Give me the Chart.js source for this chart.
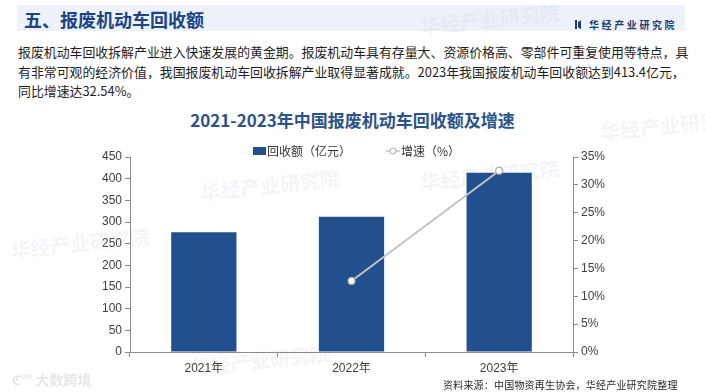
<!DOCTYPE html>
<html>
<head>
<meta charset="utf-8">
<script src="https://cdn.jsdelivr.net/npm/chart.js@4.4.1/dist/chart.umd.min.js"></script>
<style>
  html, body { margin: 0; padding: 0; background: #ffffff; }
  body { width: 705px; height: 392px; position: relative; overflow: hidden;
         font-family: "Noto Sans CJK SC", "Liberation Sans", sans-serif; }
  .wm { position: absolute; color: rgba(196, 208, 226, 0.22); font-weight: bold; white-space: nowrap;
        transform: rotate(-6deg); font-size: 20px; }
  #band { position: absolute; left: 17px; top: 5px; width: 668px; height: 26px; background: #edf2fa; }
  #head { position: absolute; left: 24px; top: 6px; font-size: 18px; font-weight: bold; color: #1b4584;
          line-height: 26px; white-space: nowrap; }
  #logo { position: absolute; left: 575px; top: 10px; height: 14px; white-space: nowrap; }
  #logo .ic { display: inline-block; width: 2px; height: 9px; background: #1f3d73; margin-right: 1px; vertical-align: middle; }
  #logo .ic2 { display: inline-block; width: 3px; height: 9px; background: #1f3d73; margin-right: 8px; vertical-align: middle;
               clip-path: polygon(0 20%, 100% 0, 100% 100%, 0 80%); }
  #logo span.t { font-size: 10px; font-weight: bold; color: #1f3d73; letter-spacing: 2.6px; vertical-align: middle; }
  #para { position: absolute; left: 18px; top: 42px; font-size: 12.9px; line-height: 19.5px; color: #1e1e1e; white-space: nowrap; }
  #title { position: absolute; left: 0; width: 705px; top: 109px; text-align: center; font-size: 17px; font-weight: bold;
           color: #2b5489; line-height: 22px; }
  #wrap { position: absolute; left: 0; top: 117px; width: 705px; height: 263px; }
  #src { position: absolute; left: 443px; top: 377px; font-size: 10px; letter-spacing: 0.2px; color: #2a2a2a; line-height: 16px; white-space: nowrap; }
  #dsk { position: absolute; left: 12px; top: 369px; font-size: 14px; color: rgba(228,228,228,0.9); font-weight: bold; white-space: nowrap; }
</style>
</head>
<body>
<div id="band"></div>
<div class="wm" style="left:420px;top:4px;">华经产业研究院</div>
<div class="wm" style="left:200px;top:170px;">华经产业研究院</div>
<div class="wm" style="left:420px;top:160px;">华经产业研究院</div>
<div class="wm" style="left:10px;top:228px;">华经产业研究院</div>
<div class="wm" style="left:190px;top:345px;">华经产业研究院</div>
<div class="wm" style="left:600px;top:110px;">华经产业研究院</div>
<div id="head">五、报废机动车回收额</div>
<div id="logo"><span class="ic"></span><span class="ic2"></span><span class="t">华经产业研究院</span></div>
<div id="para">报废机动车回收拆解产业进入快速发展的黄金期。报废机动车具有存量大、资源价格高、零部件可重复使用等特点，具<br>有非常可观的经济价值，我国报废机动车回收拆解产业取得显著成就。2023年我国报废机动车回收额达到413.4亿元，<br>同比增速达32.54%。</div>
<div id="title">2021-2023年中国报废机动车回收额及增速</div>
<div id="wrap"><canvas id="c" width="705" height="263"></canvas></div>
<div id="src">资料来源：中国物资再生协会，华经产业研究院整理</div>
<div id="dsk">ℭ°° 大数跨境</div>
<script>
// ---- data ----
const categories = ['2021年', '2022年', '2023年'];
const amountLabel = '回收额（亿元）';
const amountValues = [276.6, 311.9, 413.4];
const growthLabel = '增速（%）';
const growthValues = [null, 12.75, 32.54];
const leftTicks = [0, 50, 100, 150, 200, 250, 300, 350, 400, 450];
const rightTicks = [0, 5, 10, 15, 20, 25, 30, 35];

const BAR = '#224f8d';
const LINE = '#c3c3c3';
const AXIS = '#8a8a8a';
const TICK = '#404040';

function markerBar() {
  const c = document.createElement('canvas'); c.width = 28; c.height = 12;
  const x = c.getContext('2d'); x.fillStyle = BAR; x.fillRect(14, 2, 13, 8); return c;
}
function markerLine() {
  const c = document.createElement('canvas'); c.width = 28; c.height = 12;
  const x = c.getContext('2d');
  x.strokeStyle = LINE; x.lineWidth = 1.5; x.beginPath(); x.moveTo(13, 6); x.lineTo(27, 6); x.stroke();
  x.fillStyle = '#fff'; x.strokeStyle = '#a8a8a8'; x.lineWidth = 1;
  x.beginPath(); x.arc(20, 6, 3, 0, Math.PI * 2); x.fill(); x.stroke(); return c;
}
const mBar = markerBar(), mLine = markerLine();

new Chart(document.getElementById('c'), {
  type: 'bar',
  data: {
    labels: categories,
    datasets: [
      { type: 'bar', label: amountLabel, data: amountValues, backgroundColor: BAR, yAxisID: 'y',
        barPercentage: 0.442, categoryPercentage: 1, order: 2 },
      { type: 'line', label: growthLabel, data: growthValues, yAxisID: 'y1', borderColor: LINE, borderWidth: 2,
        pointRadius: 3.5, pointBackgroundColor: '#ffffff', pointBorderColor: '#a8a8a8', pointBorderWidth: 1.3,
        fill: false, tension: 0, order: 1 }
    ]
  },
  options: {
    responsive: false,
    animation: false,
    layout: { padding: 0 },
    plugins: {
      tooltip: { enabled: false },
      legend: {
        position: 'top', align: 'center', maxHeight: 40,
        labels: {
          usePointStyle: true, pointStyleWidth: 16, boxHeight: 12, padding: 28,
          color: '#333333', font: { size: 12, family: '"Noto Sans CJK SC", "Liberation Sans", sans-serif' },
          generateLabels: (chart) => chart.data.datasets.map((d, i) => ({
            text: d.label, pointStyle: i === 0 ? mBar : mLine, datasetIndex: i,
            fillStyle: 'transparent', strokeStyle: 'transparent', lineWidth: 0, fontColor: '#333333'
          }))
        }
      }
    },
    scales: {
      x: {
        offset: true,
        grid: { display: true, offset: true, drawOnChartArea: false, drawTicks: true, tickLength: 5, color: AXIS },
        border: { display: true, color: AXIS, width: 1 },
        ticks: { color: TICK, padding: 4, font: { size: 12, family: '"Liberation Sans", "Noto Sans CJK SC", sans-serif' } },
        afterFit: (s) => { s.height = 28; }
      },
      y: {
        position: 'left', min: 0, max: 450,
        afterBuildTicks: (s) => { s.ticks = leftTicks.map(v => ({ value: v })); },
        grid: { display: true, drawOnChartArea: false, drawTicks: true, tickLength: 5, color: AXIS },
        border: { display: true, color: AXIS, width: 1 },
        ticks: { color: TICK, padding: 3, font: { size: 12, family: '"Liberation Sans", sans-serif' } },
        afterFit: (s) => { s.width = 130; }
      },
      y1: {
        position: 'right', min: 0, max: 35,
        afterBuildTicks: (s) => { s.ticks = rightTicks.map(v => ({ value: v })); },
        grid: { display: true, drawOnChartArea: false, drawTicks: true, tickLength: 5, color: AXIS },
        border: { display: true, color: AXIS, width: 1 },
        ticks: { color: TICK, padding: 3, callback: (v) => v + '%', font: { size: 12, family: '"Liberation Sans", sans-serif' } },
        afterFit: (s) => { s.width = 132; }
      }
    }
  }
});
</script>
</body>
</html>
